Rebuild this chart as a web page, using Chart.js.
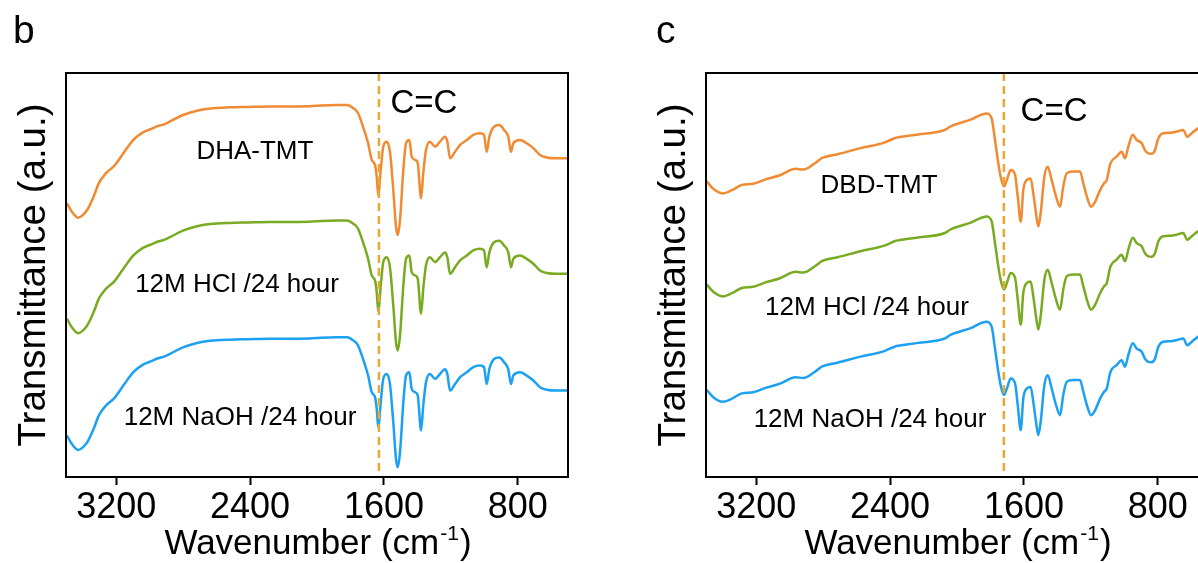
<!DOCTYPE html>
<html>
<head>
<meta charset="utf-8">
<script src="https://cdn.jsdelivr.net/npm/chart.js@4/dist/chart.umd.min.js"></script>
<style>
  html, body { margin: 0; padding: 0; background: #fff; overflow: hidden; }
  #wrap { position: relative; width: 1198px; height: 563px; overflow: hidden; }
  #panelB { position: absolute; left: 0; top: 0; }
  #panelC { position: absolute; left: 600px; top: 0; }
</style>
</head>
<body>
<div id="wrap">
  <canvas id="panelB" width="600" height="563"></canvas>
  <canvas id="panelC" width="640" height="563"></canvas>
</div>
<script>
// FTIR spectra, transmittance in arbitrary units (curves stacked)
const tickWaves = [3200, 2400, 1600, 800];

// panel b: DHA-TMT before / after acid and base treatment
const waveB = [3495, 3464, 3428, 3398, 3369, 3333, 3303, 3261, 3210, 3153,
  3096, 3040, 2982, 2950, 2914, 2878, 2801, 2723, 2639, 2520,
  2412, 2281, 2185, 2042, 1886, 1821, 1783, 1755, 1725, 1695,
  1673, 1653, 1643, 1634, 1619, 1604, 1583, 1564, 1544, 1528,
  1518, 1504, 1484, 1468, 1448, 1434, 1414, 1398, 1378, 1365,
  1349, 1325, 1295, 1265, 1235, 1221, 1205, 1175, 1145, 1105,
  1066, 1026, 1002, 986, 970, 942, 911, 882, 857, 841,
  827, 787, 747, 707, 667, 627, 568, 502];
const dhaPristine = [67.8, 65.6, 64.2, 64.9, 66.4, 69.6, 72.8, 75.2, 77.1, 80.4,
  83.5, 85.3, 86.3, 86.9, 87.3, 88.0, 89.6, 90.6, 91.2, 91.5,
  91.6, 91.7, 91.7, 91.8, 92.1, 92.1, 91.3, 90.1, 86.7, 82.7,
  78.5, 77.2, 74.3, 69.8, 76.0, 81.8, 83.0, 80.5, 71.0, 62.0,
  59.9, 63.6, 76.0, 82.6, 83.4, 79.3, 78.5, 77.7, 69.0, 75.2,
  80.9, 83.0, 81.8, 83.0, 84.2, 83.0, 78.9, 80.5, 82.2, 83.4,
  84.7, 85.1, 84.7, 80.5, 84.2, 86.7, 87.1, 85.9, 84.2, 80.5,
  82.6, 83.4, 82.6, 81.4, 79.7, 79.1, 78.9, 78.9];
const dhaHcl = [39.2, 37.0, 35.6, 36.3, 37.8, 41.0, 44.2, 46.6, 48.5, 51.8,
  54.9, 56.7, 57.7, 58.3, 58.7, 59.4, 61.0, 62.0, 62.6, 62.9,
  63.0, 63.1, 63.1, 63.2, 63.5, 63.5, 62.7, 61.5, 58.1, 54.1,
  49.9, 48.6, 45.7, 41.0, 47.4, 53.2, 54.4, 51.9, 42.4, 33.4,
  31.3, 35.0, 47.4, 54.0, 54.8, 50.7, 49.9, 49.1, 40.4, 46.6,
  52.3, 54.4, 53.2, 54.4, 55.6, 54.4, 50.3, 51.9, 53.6, 54.8,
  56.1, 56.5, 56.1, 51.9, 55.6, 58.1, 58.5, 57.3, 55.6, 51.9,
  54.0, 54.8, 54.0, 52.8, 51.1, 50.5, 50.3, 50.3];
const dhaNaoh = [10.3, 8.1, 6.7, 7.4, 8.9, 12.1, 15.3, 17.7, 19.6, 22.9,
  26.0, 27.8, 28.8, 29.4, 29.8, 30.5, 32.1, 33.1, 33.7, 34.0,
  34.1, 34.2, 34.2, 34.3, 34.6, 34.6, 33.8, 32.6, 29.2, 25.2,
  21.0, 19.7, 16.8, 12.3, 18.5, 24.3, 25.5, 23.0, 13.5, 4.5,
  2.4, 6.1, 18.5, 25.1, 25.9, 21.8, 21.0, 20.2, 11.5, 17.7,
  23.4, 25.5, 24.3, 25.5, 26.7, 25.5, 21.4, 23.0, 24.7, 25.9,
  27.2, 27.6, 27.2, 23.0, 26.7, 29.2, 29.6, 28.4, 26.7, 23.0,
  25.1, 25.9, 25.1, 23.9, 22.2, 21.6, 21.4, 21.4];

// panel c: DBD-TMT before / after acid and base treatment
const waveC = [3496, 3458, 3400, 3345, 3286, 3217, 3149, 3058, 2965, 2920,
  2851, 2805, 2714, 2576, 2439, 2370, 2347, 2233, 2072, 2042,
  1922, 1823, 1793, 1773, 1753, 1739, 1719, 1699, 1679, 1653,
  1637, 1619, 1604, 1583, 1560, 1544, 1528, 1514, 1500, 1478,
  1458, 1434, 1408, 1384, 1365, 1344, 1305, 1265, 1245, 1221,
  1199, 1175, 1145, 1121, 1105, 1083, 1046, 1016, 996, 976,
  950, 926, 896, 877, 857, 837, 817, 797, 767, 722,
  687, 648, 624, 597, 560, 502];
const dbdPristine = [73.2, 71.4, 70.2, 71.0, 72.3, 72.6, 73.6, 74.7, 76.3, 76.1,
  77.6, 79.0, 79.9, 81.4, 82.7, 83.9, 84.1, 84.8, 85.9, 86.7,
  88.4, 90.0, 88.8, 83.4, 77.6, 74.3, 71.9, 73.9, 76.0, 74.8,
  69.4, 63.2, 71.0, 73.5, 73.9, 70.2, 65.3, 62.0, 65.3, 74.3,
  76.8, 73.5, 69.4, 66.9, 71.9, 75.2, 75.6, 75.6, 72.7, 69.0,
  66.9, 68.1, 71.0, 72.7, 73.5, 77.6, 79.3, 80.5, 78.9, 81.8,
  84.7, 83.4, 82.6, 80.9, 80.1, 80.0, 80.9, 83.8, 85.1, 85.2,
  85.5, 85.9, 84.2, 85.1, 86.3, 87.1];
const dbdHcl = [47.7, 45.9, 44.7, 45.5, 46.8, 47.1, 48.1, 49.2, 50.8, 50.6,
  52.1, 53.5, 54.4, 55.9, 57.2, 58.4, 58.6, 59.3, 60.4, 61.2,
  62.9, 64.5, 63.3, 57.9, 52.1, 48.8, 46.4, 48.4, 50.5, 49.3,
  43.9, 37.7, 45.5, 48.0, 48.4, 44.7, 39.8, 36.5, 39.8, 48.8,
  51.3, 48.0, 43.9, 41.4, 46.4, 49.7, 50.1, 50.1, 47.2, 43.5,
  41.4, 42.6, 45.5, 47.2, 48.0, 52.1, 53.8, 55.0, 53.4, 56.3,
  59.2, 57.9, 57.1, 55.4, 54.6, 54.5, 55.4, 58.3, 59.6, 59.7,
  60.0, 60.4, 58.7, 59.6, 60.8, 61.6];
const dbdNaoh = [21.6, 19.8, 18.6, 19.4, 20.7, 21.0, 22.0, 23.1, 24.7, 24.5,
  26.0, 27.4, 28.3, 29.8, 31.1, 32.3, 32.5, 33.2, 34.3, 35.1,
  36.8, 38.4, 37.2, 31.8, 26.0, 22.7, 20.3, 22.3, 24.4, 23.2,
  17.8, 11.6, 19.4, 21.9, 22.3, 18.6, 13.7, 10.4, 13.7, 22.7,
  25.2, 21.9, 17.8, 15.3, 20.3, 23.6, 24.0, 24.0, 21.1, 17.4,
  15.3, 16.5, 19.4, 21.1, 21.9, 26.0, 27.7, 28.9, 27.3, 30.2,
  33.1, 31.8, 31.0, 29.3, 28.5, 28.4, 29.3, 32.2, 33.5, 33.6,
  33.9, 34.3, 32.6, 33.5, 34.7, 35.5];

const FONT = '"Liberation Sans", Arial, sans-serif';
const ORANGE = '#F08A33';
const GREEN = '#78AB22';
const BLUE = '#1CA0F2';
const DASH = '#E9A733';

function pts(xs, ys) {
  return xs.map((x, i) => ({ x: x, y: ys[i] }));
}

function series(xs, ys, color) {
  return {
    data: pts(xs, ys),
    borderColor: color,
    borderWidth: 2.5,
    pointRadius: 0,
    cubicInterpolationMode: 'monotone',
    fill: false
  };
}

// frame, marker line and all the text around the spectra
const decor = {
  id: 'decor',
  afterDraw(chart, args, o) {
    const { ctx, chartArea: a, scales } = chart;
    const xs = scales.x, ys = scales.y;

    ctx.save();
    // dashed line at the C=C band
    const dx = xs.getPixelForValue(o.bandAt);
    ctx.beginPath();
    ctx.setLineDash([8, 5]);
    ctx.strokeStyle = DASH;
    ctx.lineWidth = 2.5;
    ctx.moveTo(dx, a.top);
    ctx.lineTo(dx, a.bottom);
    ctx.stroke();
    ctx.setLineDash([]);

    // box around the plot
    ctx.strokeStyle = '#000';
    ctx.lineWidth = 2;
    ctx.strokeRect(a.left, a.top, a.right - a.left, a.bottom - a.top);

    ctx.fillStyle = '#000';
    ctx.textAlign = 'center';
    ctx.textBaseline = 'middle';

    ctx.font = '33px ' + FONT;
    ctx.fillText('C=C', xs.getPixelForValue(o.bondPos[0]), ys.getPixelForValue(o.bondPos[1]));

    ctx.font = '26px ' + FONT;
    o.curveLabels.forEach(l => {
      ctx.fillText(l.text, xs.getPixelForValue(l.at[0]), ys.getPixelForValue(l.at[1]));
    });

    // panel letter
    ctx.textAlign = 'left';
    ctx.textBaseline = 'alphabetic';
    ctx.font = '39px ' + FONT;
    ctx.fillText(o.letter, a.left - o.letterGap, 43);

    // y title
    ctx.save();
    ctx.translate(a.left - 32, (a.top + a.bottom) / 2);
    ctx.rotate(-Math.PI / 2);
    ctx.textAlign = 'center';
    ctx.textBaseline = 'middle';
    ctx.font = '38.5px ' + FONT;
    ctx.fillText('Transmittance (a.u.)', 0, 0);
    ctx.restore();

    // x title with superscript
    const main = 'Wavenumber (cm';
    const sup = '-1';
    ctx.font = '35px ' + FONT;
    const w1 = ctx.measureText(main).width;
    const w3 = ctx.measureText(')').width;
    ctx.font = '21px ' + FONT;
    const w2 = ctx.measureText(sup).width;
    const cx = (a.left + a.right) / 2;
    const x0 = cx - (w1 + w2 + w3) / 2;
    const base = 554;
    ctx.font = '35px ' + FONT;
    ctx.fillText(main, x0, base);
    ctx.font = '21px ' + FONT;
    ctx.fillText(sup, x0 + w1 + 1, base - 14);
    ctx.font = '35px ' + FONT;
    ctx.fillText(')', x0 + w1 + w2 + 2, base);
    ctx.restore();
  }
};

function makePanel(id, waves, sets, padLeft, decorOpts) {
  new Chart(document.getElementById(id), {
    type: 'line',
    data: {
      datasets: [
        series(waves, sets[0], ORANGE),
        series(waves, sets[1], GREEN),
        series(waves, sets[2], BLUE)
      ]
    },
    options: {
      responsive: false,
      animation: false,
      devicePixelRatio: 1,
      layout: { padding: { left: padLeft, right: 32, top: 73, bottom: 0 } },
      plugins: {
        legend: { display: false },
        tooltip: { enabled: false },
        decor: decorOpts
      },
      scales: {
        x: {
          type: 'linear',
          reverse: true,
          min: 500,
          max: 3500,
          afterBuildTicks: s => { s.ticks = tickWaves.map(v => ({ value: v })); },
          afterFit: s => { s.height = 86; },
          ticks: {
            color: '#000',
            font: { family: FONT, size: 36 },
            padding: 1,
            maxRotation: 0,
            autoSkip: false,
            callback: v => String(v)
          },
          grid: {
            drawOnChartArea: false,
            drawTicks: true,
            tickLength: 8,
            tickWidth: 2,
            color: '#000'
          },
          border: { display: true, color: '#000', width: 2 }
        },
        y: { display: false, min: 0, max: 100 }
      }
    },
    plugins: [decor]
  });
}

makePanel('panelB', waveB, [dhaPristine, dhaHcl, dhaNaoh], 66, {
  letter: 'b',
  letterGap: 53,
  bandAt: 1630,
  bondPos: [1361, 92.3],
  curveLabels: [
    { text: 'DHA-TMT', at: [2371, 80.4] },
    { text: '12M HCl /24 hour', at: [2478, 47.5] },
    { text: '12M NaOH /24 hour', at: [2460, 14.6] }
  ]
});

makePanel('panelC', waveC, [dbdPristine, dbdHcl, dbdNaoh], 106, {
  letter: 'c',
  letterGap: 50,
  bandAt: 1720,
  bondPos: [1420, 90.3],
  curveLabels: [
    { text: 'DBD-TMT', at: [2466, 72.0] },
    { text: '12M HCl /24 hour', at: [2538, 41.8] },
    { text: '12M NaOH /24 hour', at: [2520, 14.1] }
  ]
});
</script>
</body>
</html>
